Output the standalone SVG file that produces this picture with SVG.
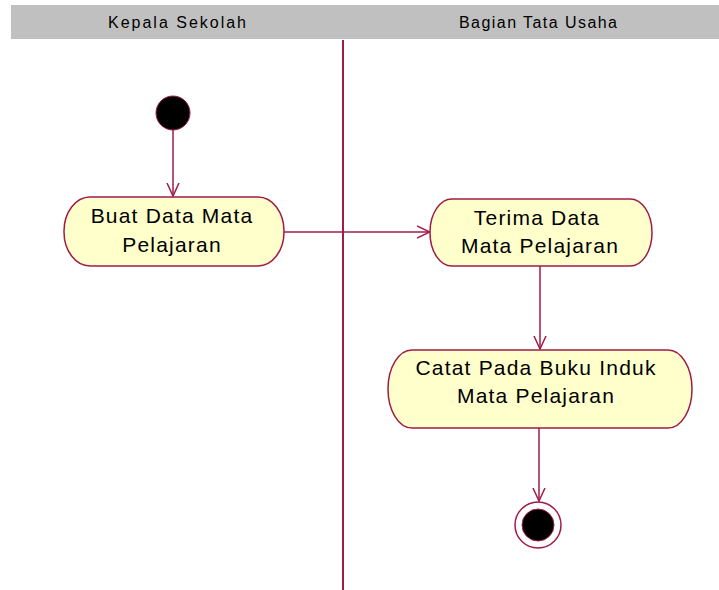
<svg xmlns="http://www.w3.org/2000/svg" width="719" height="590" viewBox="0 0 719 590">
  <style>
    .lane-title { font-family: "Liberation Sans", Arial, sans-serif; font-size: 16px; fill: #000; text-anchor: middle; }
    .act { fill: #ffffcc; stroke: #a01c48; stroke-width: 1.5; }
    .label { font-family: "Liberation Sans", Arial, sans-serif; font-size: 21px; letter-spacing: 1.2px; fill: #000; text-anchor: middle; }
    .flow { fill: none; stroke: #a01c48; stroke-width: 1.5; }
  </style>
  <defs>
    <marker id="open" viewBox="0 0 14 14" refX="13" refY="7" markerWidth="14" markerHeight="14" markerUnits="userSpaceOnUse" orient="auto">
      <path d="M0 1 L13 7 L0 13" fill="none" stroke="#a01c48" stroke-width="1.5"/>
    </marker>
  </defs>

  <rect width="719" height="590" fill="#ffffff"/>

  <!-- swimlane header -->
  <g id="lanes">
    <rect x="11" y="5" width="708" height="34" fill="#c0c0c0"/>
    <text class="lane-title" x="177" y="28" textLength="138" lengthAdjust="spacing">Kepala Sekolah</text>
    <text class="lane-title" x="538" y="28" textLength="158" lengthAdjust="spacing">Bagian Tata Usaha</text>
    <line x1="343" y1="40" x2="343" y2="590" stroke="#a01c48" stroke-width="2"/>
  </g>

  <g id="connectors">
    <path class="flow" d="M173 130 L173 196" marker-end="url(#open)"/>
    <path class="flow" d="M284 232 L430 232" marker-end="url(#open)"/>
    <path class="flow" d="M540 266 L540 349" marker-end="url(#open)"/>
    <path class="flow" d="M539 428 L539 501" marker-end="url(#open)"/>
  </g>

  <g id="start">
    <circle cx="173" cy="113" r="17" fill="#000" stroke="#a01c48" stroke-width="1"/>
  </g>

  <g id="buat-data">
    <rect class="act" x="64" y="197" width="220" height="69" rx="26" ry="34"/>
    <text class="label" x="172" y="223">Buat Data Mata</text>
    <text class="label" x="172" y="252">Pelajaran</text>
  </g>

  <g id="terima-data">
    <rect class="act" x="430" y="199" width="222" height="67" rx="22" ry="33"/>
    <text class="label" x="537" y="225">Terima Data</text>
    <text class="label" x="540" y="253">Mata Pelajaran</text>
  </g>

  <g id="catat-buku">
    <rect class="act" x="388" y="350" width="304" height="78" rx="24" ry="39"/>
    <text class="label" x="536" y="375">Catat Pada Buku Induk</text>
    <text class="label" x="536" y="403">Mata Pelajaran</text>
  </g>

  <g id="end">
    <circle cx="538" cy="525" r="23" fill="#fff" stroke="#a01c48" stroke-width="1.5"/>
    <circle cx="538" cy="525" r="16" fill="#000" stroke="#a01c48" stroke-width="1"/>
  </g>
</svg>
